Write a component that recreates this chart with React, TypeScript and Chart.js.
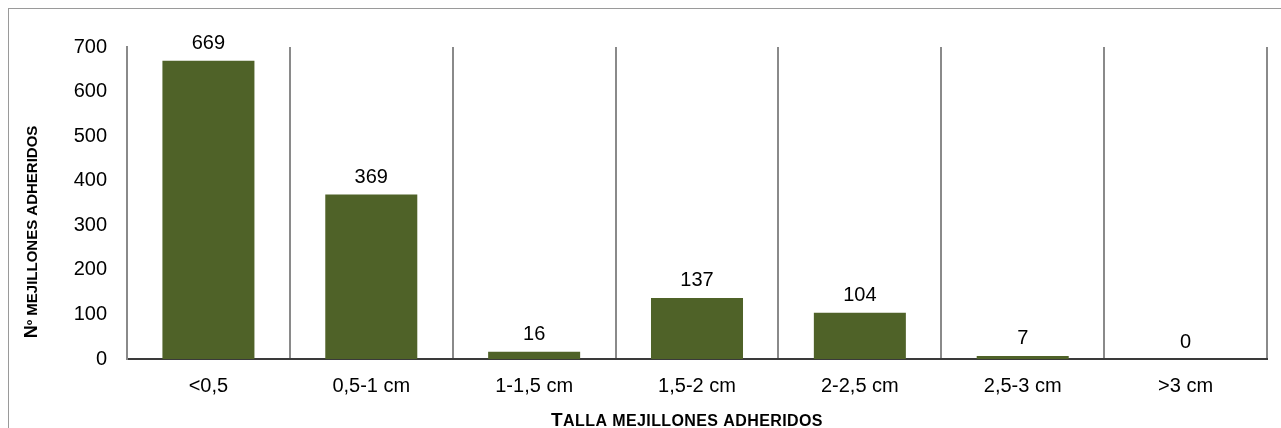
import React, { useEffect, useRef } from "react";
import { Chart, registerables } from "chart.js";

Chart.register(...registerables);

const categories = ["<0,5", "0,5-1 cm", "1-1,5 cm", "1,5-2 cm", "2-2,5 cm", "2,5-3 cm", ">3 cm"];
const counts = [669, 369, 16, 137, 104, 7, 0];
const yTicks = [0, 100, 200, 300, 400, 500, 600, 700];
const yTitle = "Nº MEJILLONES ADHERIDOS";
const xTitle = "TALLA MEJILLONES ADHERIDOS";

const FONT = "'Liberation Sans', Arial, sans-serif";

function drawSmallCaps(
  ctx: CanvasRenderingContext2D,
  text: string,
  cx: number,
  baseY: number,
  big: number,
  small: number,
  spacing: number
) {
  const parts: { t: string; size: number }[] = [];
  const words = text.split(" ");
  words.forEach((w, i) => {
    if (i > 0) parts.push({ t: " ", size: small });
    const first = w.charAt(0);
    const rest = w.slice(1);
    parts.push({ t: first, size: i === 0 ? big : small });
    if (rest) parts.push({ t: rest, size: small });
  });
  (ctx as any).letterSpacing = spacing + "px";
  let total = 0;
  const widths = parts.map((p) => {
    ctx.font = `bold ${p.size}px ${FONT}`;
    const w = ctx.measureText(p.t).width;
    total += w;
    return w;
  });
  let x = cx - total / 2;
  ctx.textAlign = "left";
  ctx.textBaseline = "alphabetic";
  parts.forEach((p, i) => {
    ctx.font = `bold ${p.size}px ${FONT}`;
    ctx.fillText(p.t, x, baseY);
    x += widths[i];
  });
  (ctx as any).letterSpacing = "0px";
}

const labelsPlugin = {
  id: "customLabels",
  afterDatasetsDraw(chart: any) {
    const ctx: CanvasRenderingContext2D = chart.ctx;
    const meta = chart.getDatasetMeta(0);
    ctx.save();
    ctx.fillStyle = "#000";
    ctx.font = `20px ${FONT}`;
    ctx.textAlign = "center";
    ctx.textBaseline = "bottom";
    meta.data.forEach((el: any, i: number) => {
      ctx.fillText(String(counts[i]), el.x, el.y - 7);
    });
    ctx.restore();
  },
  afterDraw(chart: any) {
    const ctx: CanvasRenderingContext2D = chart.ctx;
    const area = chart.chartArea;
    ctx.save();
    ctx.fillStyle = "#000";
    drawSmallCaps(ctx, xTitle, (area.left + area.right) / 2 - 10, 417, 19, 16, 0.4);
    ctx.translate(28, 223);
    ctx.rotate(-Math.PI / 2);
    drawSmallCaps(ctx, yTitle, 0, 0, 18, 15, 0);
    ctx.restore();
  },
};

export default function App() {
  const ref = useRef<HTMLCanvasElement | null>(null);

  useEffect(() => {
    if (!ref.current) return;
    const chart = new Chart(ref.current, {
      type: "bar",
      data: {
        labels: categories,
        datasets: [
          {
            data: counts,
            backgroundColor: "#4F6228",
            borderWidth: 0,
            barPercentage: 0.565,
            categoryPercentage: 1,
          },
        ],
      },
      options: {
        responsive: false,
        animation: false,
        maintainAspectRatio: false,
        layout: { padding: { left: 0, right: 14, top: 38, bottom: 0 } },
        plugins: {
          legend: { display: false },
          tooltip: { enabled: false },
          title: { display: false },
        },
        scales: {
          x: {
            offset: true,
            grid: {
              display: true,
              offset: true,
              color: "#8a8a8a",
              lineWidth: 2,
              drawTicks: false,
            },
            border: { display: true, color: "#3a3a3a", width: 2 },
            ticks: {
              color: "#000",
              font: { family: FONT, size: 20 },
              padding: 15,
              maxRotation: 0,
              autoSkip: false,
            },
            afterFit(scale: any) {
              scale.height = 69;
            },
          },
          y: {
            min: 0,
            max: 700,
            grid: { display: false, drawTicks: false },
            border: { display: true, color: "#8a8a8a", width: 2 },
            afterBuildTicks(scale: any) {
              scale.ticks = yTicks.map((v) => ({ value: v }));
            },
            ticks: {
              color: "#000",
              font: { family: FONT, size: 20 },
              padding: 20,
            },
            afterFit(scale: any) {
              scale.width = 118;
            },
          },
        },
      },
      plugins: [labelsPlugin],
    });
    return () => chart.destroy();
  }, []);

  return (
    <div
      style={{
        position: "fixed",
        left: 8,
        top: 8,
        width: 1273,
        height: 420,
        borderTop: "1px solid #9a9a9a",
        borderLeft: "1px solid #9a9a9a",
        background: "#fff",
        overflow: "hidden",
      }}
    >
      <canvas ref={ref} width={1272} height={419} style={{ display: "block" }} />
    </div>
  );
}
